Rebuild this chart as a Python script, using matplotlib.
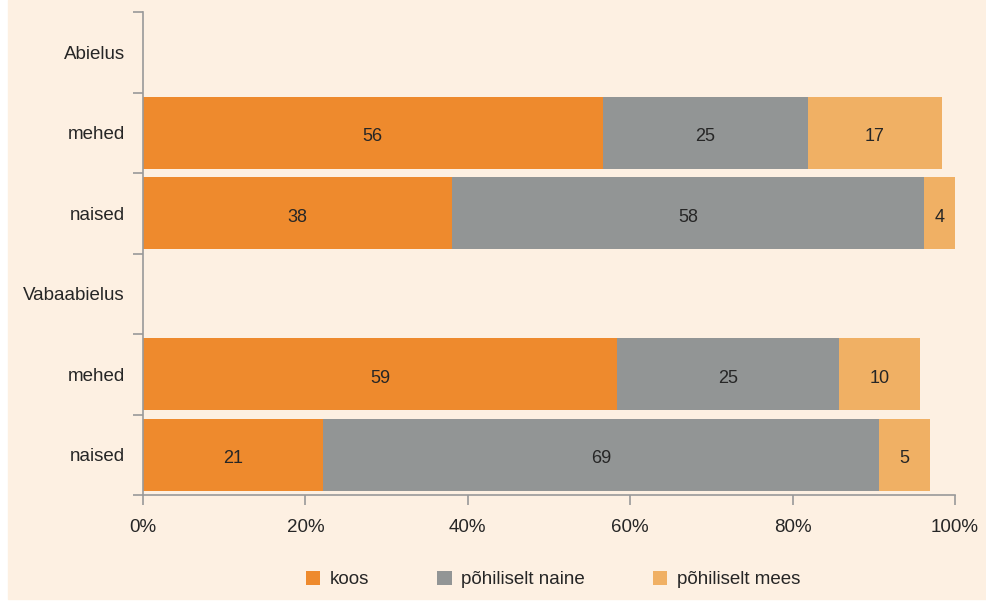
import numpy as np
import matplotlib.pyplot as plt
from matplotlib.patches import Rectangle

# (percent of respondents)
rows = ['Abielus', 'mehed', 'naised', 'Vabaabielus', 'mehed', 'naised']
koos = [0, 56.6, 38.1, 0, 58.4, 22.2]
naine = [0, 25.3, 58.1, 0, 27.3, 68.5]
mees = [0, 16.5, 3.8, 0, 10.0, 6.2]
lab_koos = ['', '56', '38', '', '59', '21']
lab_naine = ['', '25', '58', '', '25', '69']
lab_mees = ['', '17', '4', '', '10', '5']
xticks = [0, 20, 40, 60, 80, 100]

bg = '#fdf0e2'
c_koos = '#ee8a2d'
c_naine = '#929595'
c_mees = '#f0b064'
txt = '#262626'

plt.rcParams['font.family'] = ['Liberation Sans', 'DejaVu Sans']

fig = plt.figure(figsize=(9.86, 6.02), dpi=100, facecolor='white')
# peach panel, white strip left and bottom like the original
fig.patches.append(Rectangle((8 / 986, 1 - 599 / 602), 1, 599 / 602,
                             transform=fig.transFigure, color=bg, zorder=-5))
ax = fig.add_axes([143 / 986, 1 - 495 / 602, (955 - 143) / 986, (495 - 12) / 602])
ax.set_zorder(2)
ax.set_facecolor('none')

y = np.arange(len(rows))
left2 = np.array(koos)
left3 = left2 + np.array(naine)
b1 = ax.barh(y, koos, height=0.9, color=c_koos, label='koos')
b2 = ax.barh(y, naine, left=left2, height=0.9, color=c_naine, label='põhiliselt naine')
b3 = ax.barh(y, mees, left=left3, height=0.9, color=c_mees, label='põhiliselt mees')
for b, lab in [(b1, lab_koos), (b2, lab_naine), (b3, lab_mees)]:
    for t in ax.bar_label(b, labels=lab, label_type='center', fontsize=13, color=txt):
        t.xyann = (0, -3)

ax.set_xlim(0, 100)
ax.set_ylim(len(rows) - 0.5, -0.5)
ax.set_xticks(xticks)
ax.set_xticklabels([f'{v}%' for v in xticks])
ax.set_yticks(y)
ax.set_yticklabels(rows)
ax.set_yticks(np.arange(len(rows) + 1) - 0.5, minor=True)
ax.tick_params(axis='y', which='major', length=0, pad=13, labelsize=13.5, labelcolor=txt)
ax.tick_params(axis='y', which='minor', length=7, color='#999999', width=1.2)
ax.tick_params(axis='x', length=7, color='#999999', width=1.2, pad=10,
               labelsize=13.5, labelcolor=txt)
for s in ['top', 'right']:
    ax.spines[s].set_visible(False)
for s in ['left', 'bottom']:
    ax.spines[s].set_color('#999999')
    ax.spines[s].set_linewidth(1.2)

ax.legend(loc='center', bbox_to_anchor=(0.505, -0.175), ncol=3, frameon=False,
          fontsize=13.5, handlelength=0.75, handleheight=0.75, handletextpad=0.5,
          columnspacing=3.65, labelcolor=txt)

fig.savefig('out.png', dpi=100, facecolor=fig.get_facecolor())
